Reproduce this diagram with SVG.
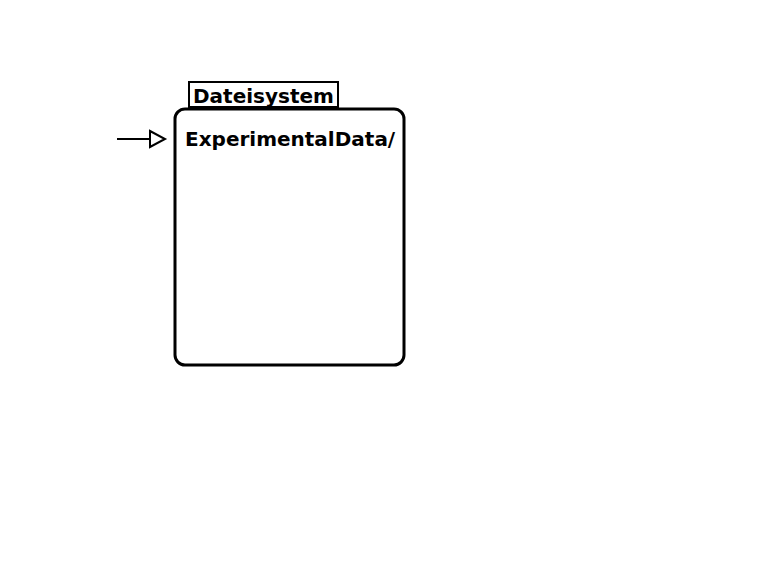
<svg xmlns="http://www.w3.org/2000/svg" width="784" height="566" viewBox="0 0 784 566">
<style>
text{font-family:"DejaVu Sans",sans-serif;font-weight:bold;fill:#000;font-size:20px}
.box{fill:#fff;stroke:#000}
</style>
<rect width="784" height="566" fill="#fff"/>
<g id="connectors">
<line x1="117" y1="139" x2="150" y2="139" stroke="#000" stroke-width="2"/>
<polygon points="150,131 165,139 150,147" fill="#fff" stroke="#000" stroke-width="2"/>
</g>
<g id="dateisystem-tab">
<rect class="box" x="189" y="82" width="149" height="25" stroke-width="2"/>
<text x="193" y="103">Dateisystem</text>
</g>
<g id="experimentaldata">
<rect class="box" x="175" y="109" width="229" height="256" rx="10" stroke-width="3"/>
<text x="185" y="146">ExperimentalData/</text>
</g>
</svg>
